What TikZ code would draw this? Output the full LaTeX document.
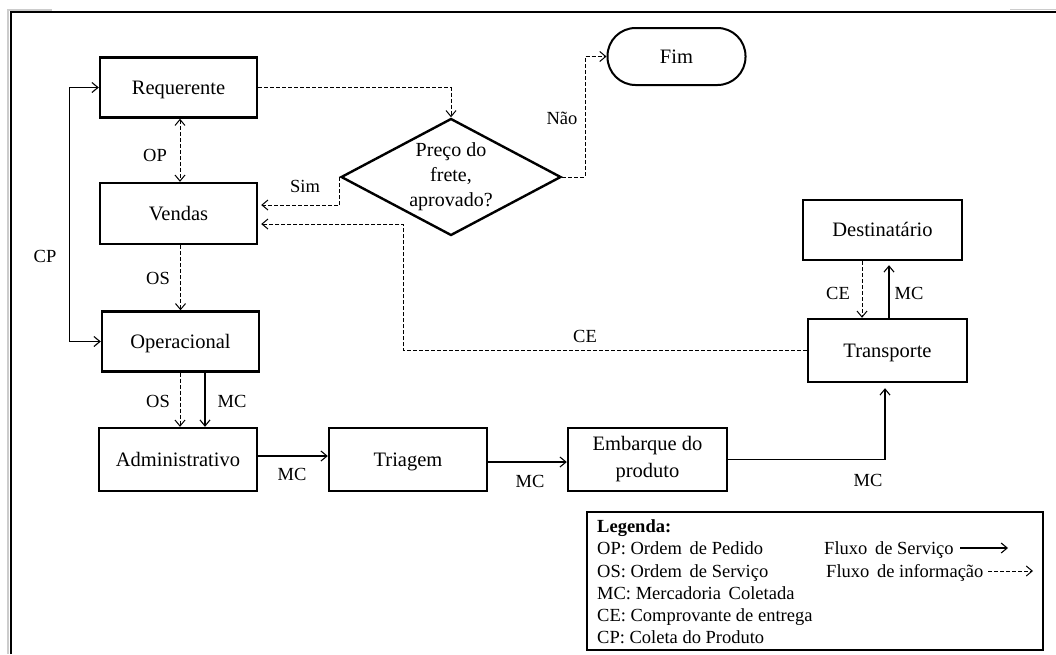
\documentclass[tikz,border=0pt]{standalone}
\usepackage{fontspec}
\setmainfont{Liberation Serif}
\usetikzlibrary{arrows.meta,shapes.geometric}

\tikzset{
  barb/.tip={Straight Barb[length=6pt,width=10pt]},
  box/.style={draw, line width=2.4pt, inner sep=0pt, align=center,
    font=\fontsize{20.5}{27}\selectfont},
  onebox/.style={box, text height=13.8pt, text depth=0pt},
  decision/.style={draw, diamond, line width=2.4pt, inner sep=0pt, align=center,
    shape aspect=1.88, minimum width=220pt, minimum height=117pt,
    font=\fontsize{20}{25}\selectfont},
  terminal/.style={draw, line width=2pt, rounded corners=28pt, inner sep=0pt,
    minimum width=138pt, minimum height=57pt, text height=13.8pt, text depth=0pt,
    font=\fontsize{20.5}{24}\selectfont},
  lbl/.style={inner sep=0pt, text height=12.5pt, text depth=0pt,
    font=\fontsize{18.5}{22}\selectfont},
  legtext/.style={inner sep=0pt, anchor=west, text height=12.5pt, text depth=0pt,
    font=\fontsize{18.5}{22}\selectfont},
  flow/.style={line width=1.1pt, -{barb}},
  info/.style={flow, line width=1pt, dash pattern=on 4pt off 2pt},
}

\begin{document}
\begin{tikzpicture}[x=1pt, y=-1pt]
\useasboundingbox (0,0) rectangle (1056,654);

% outer frame
\draw[gray!40, line width=1.5pt] (8,654) -- (8,10) -- (52,10);
\draw[gray!40, line width=1.5pt] (1010,9.5) -- (1056,9.5);
\draw[line width=2.6pt] (11,654) -- (11,12) -- (1056,12);

% process boxes
\node[onebox, minimum width=157pt, minimum height=60pt] (req) at (178.5,87.5) {Requerente};
\node[onebox, minimum width=157pt, minimum height=61pt] (ven) at (178.5,213.5) {Vendas};
\node[onebox, minimum width=157pt, minimum height=60pt] (ope) at (180.5,341.5) {Operacional};
\node[onebox, minimum width=158pt, minimum height=63pt] (adm) at (178,459.5) {Administrativo};
\node[onebox, minimum width=158pt, minimum height=63pt] (tri) at (408,459.5) {Triagem};
\node[box, minimum width=159pt, minimum height=63pt] (emb) at (647.5,459.5) {Embarque do\\produto};
\node[onebox, minimum width=159pt, minimum height=63pt] (tra) at (887.5,350.5) {Transporte};
\node[onebox, minimum width=159pt, minimum height=60pt] (des) at (882.5,230) {Destinatário};
\node[terminal] (fim) at (676.5,56.5) {Fim};
\node[decision] (dia) at (451,177) {Preço do\\frete,\\aprovado?};

% helper coordinates for the routed connectors
\coordinate (simY) at (0,205);
\coordinate (naoC) at (585,177);
\coordinate (ceX) at (403,224);
\coordinate (osX) at (180,0);
\coordinate (mcX) at (205,0);
\coordinate (mcA) at (0,456);
\coordinate (mcB) at (0,462);
\coordinate (mcT) at (885,0);
\coordinate (ceD) at (862,0);
\coordinate (mcD) at (889,0);

% information flows (dashed)
\draw[info] (req.east) -| (dia.north);
\draw[info, {barb}-{barb}] (req.south -| osX) -- (ven.north -| osX);
\draw[info, shorten >=3pt] (dia.west) |- (ven.east |- simY);
\draw[info] (dia.east) -- (naoC) |- (fim.west);
\draw[info, shorten >=3pt] (tra.west) -| (ceX) -- (ven.east |- ceX);
\draw[info] (ope.north |- ven.south) -- (ope.north);
\draw[info] (ope.south -| osX) -- (adm.north -| osX);
\draw[info] (des.south -| ceD) -- (tra.north -| ceD);

% service flows (solid)
\draw[flow, {barb}-{barb}] (req.west) -- ++(-29,0) |- (ope.west);
\draw[flow] (ope.south -| mcX) -- (adm.north -| mcX);
\draw[flow] (adm.east |- mcA) -- (tri.west |- mcA);
\draw[flow] (tri.east |- mcB) -- (emb.west |- mcB);
\draw[flow, shorten >=5pt] (emb.east) -| (tra.south -| mcT);
\draw[flow, shorten >=4pt] (tra.north -| mcD) -- (des.south -| mcD);

% connector labels
\node[lbl] (lOP) at (155,155) {OP};
\node[lbl] (lOS1) at (158,278) {OS};
\node[lbl] (lCP) at (45,256) {CP};
\node[lbl] (lSim) at (305,186) {Sim};
\node[lbl] (lNao) at (562,118) {Não};
\node[lbl] (lCE1) at (585,336) {CE};
\node[lbl] (lCE2) at (838,293) {CE};
\node[lbl] (lMC1) at (909,293) {MC};
\node[lbl] (lOS2) at (158,401) {OS};
\node[lbl] (lMC2) at (232,401) {MC};
\node[lbl] (lMC3) at (292,474) {MC};
\node[lbl] (lMC4) at (530,481) {MC};
\node[lbl] (lMC5) at (868,480) {MC};

% legend
\node[draw, line width=2.4pt, minimum width=456pt, minimum height=138pt, inner sep=0pt]
  (leg) at (815,581) {};
\node[legtext, font=\fontsize{18.5}{22}\selectfont\bfseries] (lg0) at (597,526) {Legenda:};
\node[legtext] (lg1) at (597,548) {OP: Ordem\, de Pedido};
\node[legtext] (lg2) at (597,571) {OS: Ordem\, de Serviço};
\node[legtext] (lg3) at (597,593) {MC: Mercadoria\, Coletada};
\node[legtext] (lg4) at (597,615) {CE: Comprovante de entrega};
\node[legtext] (lg5) at (597,637) {CP: Coleta do Produto};
\node[legtext] (lg6) at (824,548) {Fluxo\, de Serviço};
\node[legtext] (lg7) at (826,571) {Fluxo\, de informação};
\coordinate (fs1) at (960,548);
\coordinate (fs2) at (1008,548);
\coordinate (fi1) at (988,571);
\coordinate (fi2) at (1033,571);
\draw[flow] (fs1) -- (fs2);
\draw[info] (fi1) -- (fi2);
\end{tikzpicture}
\end{document}
